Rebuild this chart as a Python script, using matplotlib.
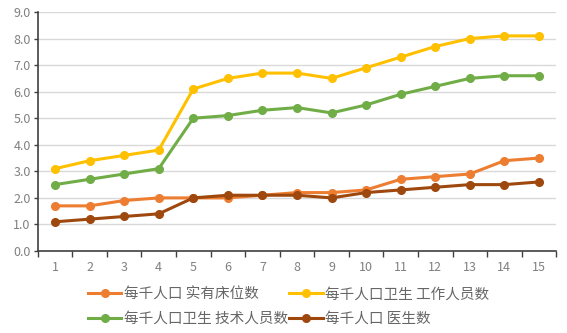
import numpy as np
import matplotlib.pyplot as plt
from matplotlib.ticker import FixedLocator

plt.rcParams['font.family'] = ['Noto Sans CJK SC', 'DejaVu Sans']

years = list(range(1, 16))
beds = [1.7, 1.7, 1.9, 2.0, 2.0, 2.0, 2.1, 2.2, 2.2, 2.3, 2.7, 2.8, 2.9, 3.4, 3.5]
workers = [3.1, 3.4, 3.6, 3.8, 6.1, 6.5, 6.7, 6.7, 6.5, 6.9, 7.3, 7.7, 8.0, 8.1, 8.1]
tech = [2.5, 2.7, 2.9, 3.1, 5.0, 5.1, 5.3, 5.4, 5.2, 5.5, 5.9, 6.2, 6.5, 6.6, 6.6]
doctors = [1.1, 1.2, 1.3, 1.4, 2.0, 2.1, 2.1, 2.1, 2.0, 2.2, 2.3, 2.4, 2.5, 2.5, 2.6]

series = [
    ('每千人口 实有床位数', beds, '#ED7D31'),
    ('每千人口卫生 工作人员数', workers, '#FFC000'),
    ('每千人口卫生 技术人员数', tech, '#70AD47'),
    ('每千人口 医生数', doctors, '#9E480E'),
]

fig = plt.figure(figsize=(5.67, 3.33), dpi=100)
ax = fig.add_axes([0.0665, 0.2462, 0.9145, 0.7178])

lines = []
for name, vals, col in series:
    ln, = ax.plot(years, vals, color=col, lw=2.2, marker='o', ms=5.5, label=name)
    lines.append(ln)

ax.set_xlim(0.5, 15.5)
ax.set_ylim(0, 9)
ax.set_yticks(np.arange(0, 9.5, 1.0))
ax.set_yticklabels(['%.1f' % v for v in np.arange(0, 9.5, 1.0)])
ax.set_xticks(years)
ax.xaxis.set_minor_locator(FixedLocator(np.arange(0.5, 16, 1.0)))
ax.tick_params(axis='x', which='major', length=0, pad=7)
ax.tick_params(axis='x', which='minor', length=4, width=1, color='#404040', direction='out')
ax.tick_params(axis='y', length=3, width=1, color='#404040', pad=2)
ax.tick_params(labelsize=9, labelcolor='#808080')

ax.grid(axis='y', color='#d9d9d9', lw=1)
ax.set_axisbelow(True)
for s in ['top', 'right']:
    ax.spines[s].set_visible(False)
for s in ['left', 'bottom']:
    ax.spines[s].set_color('#404040')
    ax.spines[s].set_linewidth(1.2)

# legend filled row by row: beds, workers / tech, doctors
order = [0, 2, 1, 3]
fig.legend([lines[i] for i in order], [series[i][0] for i in order],
           loc='upper left', bbox_to_anchor=(0.155, 0.137), ncol=2, frameon=False,
           fontsize=10.5, labelcolor='#666666', handlelength=2.3, handletextpad=0.15,
           columnspacing=0.1, labelspacing=0.7, borderaxespad=0, borderpad=0)

fig.savefig('out.png', dpi=100)
